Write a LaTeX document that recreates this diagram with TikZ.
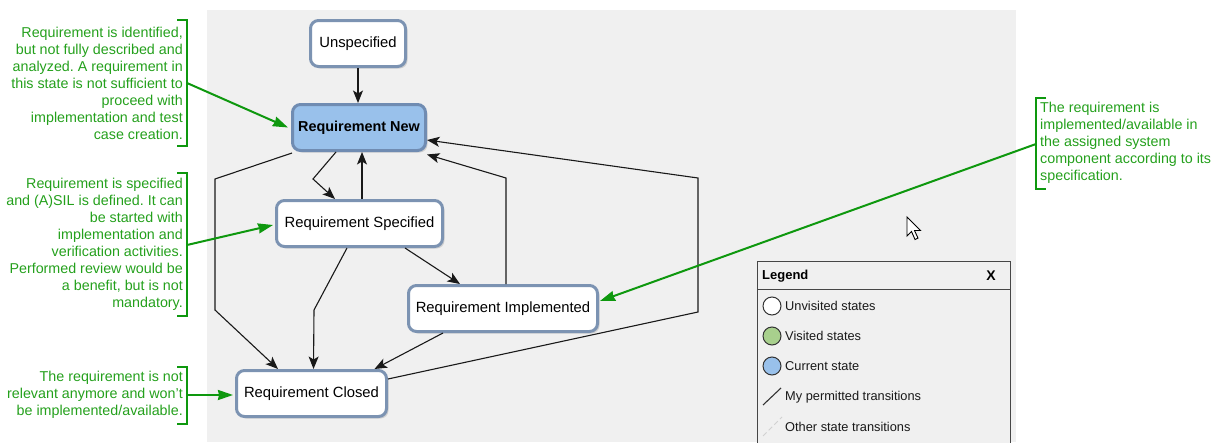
\documentclass[tikz,border=0pt]{standalone}
\usepackage{fontspec}
\setmainfont{Liberation Sans}
\usetikzlibrary{arrows.meta,shadows}
\frenchspacing

\definecolor{panel}{RGB}{240,240,240}
\definecolor{stateborder}{RGB}{124,147,178}
\definecolor{currentborder}{RGB}{112,140,178}
\definecolor{currentfill}{RGB}{153,193,235}
\definecolor{visitedfill}{RGB}{168,208,141}
\definecolor{notegreen}{RGB}{14,152,14}
\definecolor{notetext}{RGB}{36,160,28}
\definecolor{legendline}{RGB}{70,70,70}

\begin{document}
\begin{tikzpicture}[x=1pt,y=-1pt,
  state/.style={draw=stateborder, line width=3pt, fill=white, rounded corners=8pt,
    inner sep=0pt, minimum height=46pt, font=\fontsize{14.8}{16}\selectfont,
    drop shadow={shadow xshift=2pt, shadow yshift=-2pt, fill=black, opacity=0.13}},
  current/.style={state, draw=currentborder, fill=currentfill, font=\bfseries\fontsize{14.4}{16}\selectfont},
  tr/.style={draw=black!90, line width=1.1pt, line join=miter,
    -{Stealth[length=12.5pt,width=10pt,inset=3pt]}},
  note/.style={font=\fontsize{14.3}{17}\selectfont, text=notetext, inner sep=0pt},
  bracket/.style={draw=notegreen, line width=2pt},
  pointer/.style={draw=notegreen, line width=2pt, -{Stealth[length=15pt,width=10pt,inset=1pt]}},
  legdot/.style={circle, draw=black!80, line width=1pt, minimum size=18pt, inner sep=0pt},
  legtext/.style={anchor=west, inner sep=0pt, font=\fontsize{12.8}{15}\selectfont, text=black!90},
]
\useasboundingbox (0,0) rectangle (1218,442);

% workflow panel
\fill[panel] (207,10) rectangle (1016,442);

% states
\node[state, minimum width=95pt]  (uns)    at (358,43.5)    {Unspecified};
\node[current, minimum width=133pt] (new)  at (359,127.5)   {Requirement New};
\node[state, minimum width=166pt] (spec)   at (359.5,223.5) {Requirement Specified};
\node[state, minimum width=189pt] (impl)   at (503,308.5)   {Requirement Implemented};
\node[state, minimum width=150pt] (closed) at (311.5,393.5) {Requirement Closed};

% bend points of the transitions
\coordinate (k1) at (313,179);
\coordinate (k2) at (215,179);
\coordinate (k3) at (215,310);
\coordinate (k4) at (314,310);
\coordinate (k5) at (506,178);
\coordinate (k6) at (698,312);
\coordinate (k7) at (698,178);

% transitions
\draw[tr] (uns.south) -- (uns.south |- new.north);
\draw[tr] ([xshift=-23pt]new.south) -- (k1) -- ([xshift=-24.5pt]spec.north);
\draw[tr] ([xshift=2.5pt]spec.north) -- ([xshift=3pt]new.south);
\draw[tr] ([xshift=1pt,yshift=-1pt]new.south west) -- (k2) -- (k3) -- ([xshift=-33.5pt]closed.north);
\draw[tr] ([xshift=-12.5pt]spec.south) -- (k4) -- ([xshift=2pt]closed.north);
\draw[tr] ([xshift=45.5pt]spec.south) -- ([xshift=-43pt]impl.north);
\draw[tr] ([xshift=3pt]impl.north) -- (k5) -- ([yshift=-2.5pt]new.south east);
\draw[tr] ([yshift=14.5pt]closed.east) -- (k6) -- (k7) -- ([yshift=-12.5pt]new.east);
\draw[tr] ([xshift=-60pt]impl.south) -- ([xshift=63pt]closed.north);

% annotations
\node[note, anchor=east, align=right] (n1) at (183,83) {Requirement is identified,\\but not fully described and\\analyzed. A requirement in\\this state is not sufficient to\\proceed with\\implementation and test\\case creation.};
\draw[bracket] (177,20) -- (187,20) -- (187,146) -- (177,146);
\coordinate (b1) at (187,83);
\draw[pointer] (b1) -- ([xshift=-3pt]new.west);

\node[note, anchor=east, align=right] (n2) at (183,244.5) {Requirement is specified\\and (A)SIL is defined. It can\\be started with\\implementation and\\verification activities.\\Performed review would be\\a benefit, but is not\\mandatory.};
\draw[bracket] (177,173) -- (187,173) -- (187,316) -- (177,316);
\coordinate (b2) at (187,245);
\draw[pointer] (b2) -- ([xshift=-2pt,yshift=-1.5pt]spec.west);

\node[note, anchor=east, align=right] (n3) at (183,395) {The requirement is not\\relevant anymore and won't\\be implemented/available.};
\draw[bracket] (177,367) -- (187,367) -- (187,424) -- (177,424);
\coordinate (b3) at (187,395);
\draw[pointer] (b3) -- ([xshift=-2pt,yshift=-1.5pt]closed.west);

\node[note, anchor=west, align=left] (n4) at (1040,143) {The requirement is\\implemented/available in\\the assigned system\\component according to its\\specification.};
\draw[bracket] (1046,98) -- (1036,98) -- (1036,189) -- (1046,189);
\coordinate (b4) at (1036,144);
\draw[pointer] (b4) -- ([xshift=1pt,yshift=7.5pt]impl.east);

% legend
\fill[panel] (757,261) rectangle (1010,444);
\draw[legendline, line width=1pt] (757,444) -- (757,261) -- (1010,261) -- (1010,444);
\draw[legendline, line width=0.8pt] (757,289) -- (1010,289);
\node[anchor=west, inner sep=0pt, font=\bfseries\fontsize{13}{15}\selectfont] (legtitle) at (762,276) {Legend};
\node[inner sep=0pt, font=\bfseries\fontsize{14}{15}\selectfont] (legclose) at (991,276) {X};
\node[legdot, fill=white]       (d1) at (772,306) {};
\node[legdot, fill=visitedfill] (d2) at (772,336) {};
\node[legdot, fill=currentfill] (d3) at (772,366) {};
\node[legtext] (t1) at (785,306) {Unvisited states};
\node[legtext] (t2) at (785,336) {Visited states};
\node[legtext] (t3) at (785,366) {Current state};
\draw[black!80, line width=1.1pt] (763,405) -- (781,388);
\node[legtext] (t4) at (785,397) {My permitted transitions};
\draw[black!18, line width=1pt, dash pattern=on 5pt off 3pt] (763,436) -- (782,417);
\node[legtext] (t5) at (785,427) {Other state transitions};

% mouse pointer
\filldraw[fill=white, draw=black, line width=0.9pt, line join=miter]
  (907,217) -- ++(0,19) -- ++(4.5,-4.5) -- ++(3.5,8) -- ++(3,-1.4) -- ++(-3.5,-7.6) -- ++(6,0) -- cycle;
\end{tikzpicture}
\end{document}
